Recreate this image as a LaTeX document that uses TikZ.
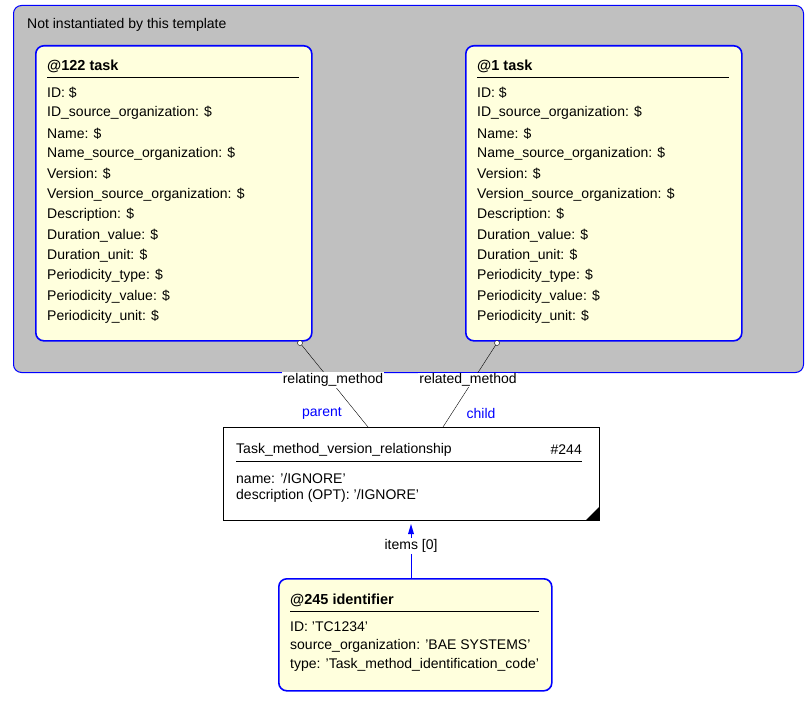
\documentclass[tikz,border=0pt]{standalone}
\usepackage{fontspec}
\setmainfont{Liberation Sans}
\definecolor{bl}{RGB}{0,0,255}
\definecolor{cream}{RGB}{255,255,221}
\definecolor{gr}{RGB}{192,192,192}
\begin{document}
\begin{tikzpicture}[x=1pt,y=-1pt,font=\fontsize{14}{16}\selectfont,
  ent/.style={draw=bl,line width=1.6pt,fill=cream,rounded corners=8pt},
  txt/.style={anchor=west,inner sep=0pt},
  ttl/.style={anchor=west,inner sep=0pt,font=\fontsize{14.5}{16}\selectfont\bfseries},
  lbl/.style={fill=white,inner sep=1pt},
  role/.style={text=bl,inner sep=0pt}]
\useasboundingbox (0,0) rectangle (810,703);
\node[draw=bl,line width=1pt,fill=gr,rounded corners=8pt,minimum width=790,minimum height=367,anchor=north west,inner sep=0pt] (grp) at (13,5) {};
\node[txt] (gt) at (27,25) {Not instantiated by this template};
\foreach \n/\x/\t in {L/35/@122 task,R/465/@1 task}{
  \node[ent,minimum width=276,minimum height=295,anchor=north west,inner sep=0pt] (\n) at (\x,45) {};
  \node[ttl] (\n t) at (\x+12,66) {\t};
  \draw (\x+12,77) -- (\x+264,77);
  \foreach \s [count=\i] in {ID: \$,ID\_source\_organization: \$,Name: \$,Name\_source\_organization: \$,Version: \$,Version\_source\_organization: \$,Description: \$,Duration\_value: \$,Duration\_unit: \$,Periodicity\_type: \$,Periodicity\_value: \$,Periodicity\_unit: \$}
    \node[txt] (\n\i) at (\x+12,{72.5+20.35*\i}) {\s};
}
\node[draw,fill=white,minimum width=376,minimum height=93,anchor=north west,inner sep=0pt] (M) at (223,427) {};
\fill (599,520) -- (599,507) -- (586,520) -- cycle;
\node[txt] (Mt) at (236,450) {Task\_method\_version\_relationship};
\node[anchor=east,inner sep=0pt] (Mn) at (582,450) {\#244};
\draw (236,461) -- (582,461);
\node[txt] (M1) at (236,478) {name: '/IGNORE'};
\node[txt] (M2) at (236,496) {description (OPT): '/IGNORE'};
\node[ent,minimum width=273,minimum height=112,anchor=north west,inner sep=0pt] (B) at (278,578) {};
\node[ttl] (Bt) at (290,600) {@245 identifier};
\draw (290,611) -- (539,611);
\node[txt] (B1) at (290,627) {ID: 'TC1234'};
\node[txt] (B2) at (290,646) {source\_organization: 'BAE SYSTEMS'};
\node[txt] (B3) at (290,665) {type: 'Task\_method\_identification\_code'};
\coordinate (lc) at (300,343);
\coordinate (rc) at (497,343);
\draw (lc) -- (368,427);
\draw (rc) -- (443,427);
\draw[fill=white] (lc) circle (2.5);
\draw[fill=white] (rc) circle (2.5);
\node[lbl] (rl) at (333,380) {relating\_method};
\node[lbl] (rd) at (468,380) {related\_method};
\node[role] (pa) at (322,413) {parent};
\node[role] (ch) at (481,413) {child};
\draw[bl,line width=1pt] (411,578) -- (411,530);
\fill[bl] (411,524) -- (414,534) -- (408,534) -- cycle;
\node[lbl] (it) at (411,546) {items [0]};
\end{tikzpicture}
\end{document}
